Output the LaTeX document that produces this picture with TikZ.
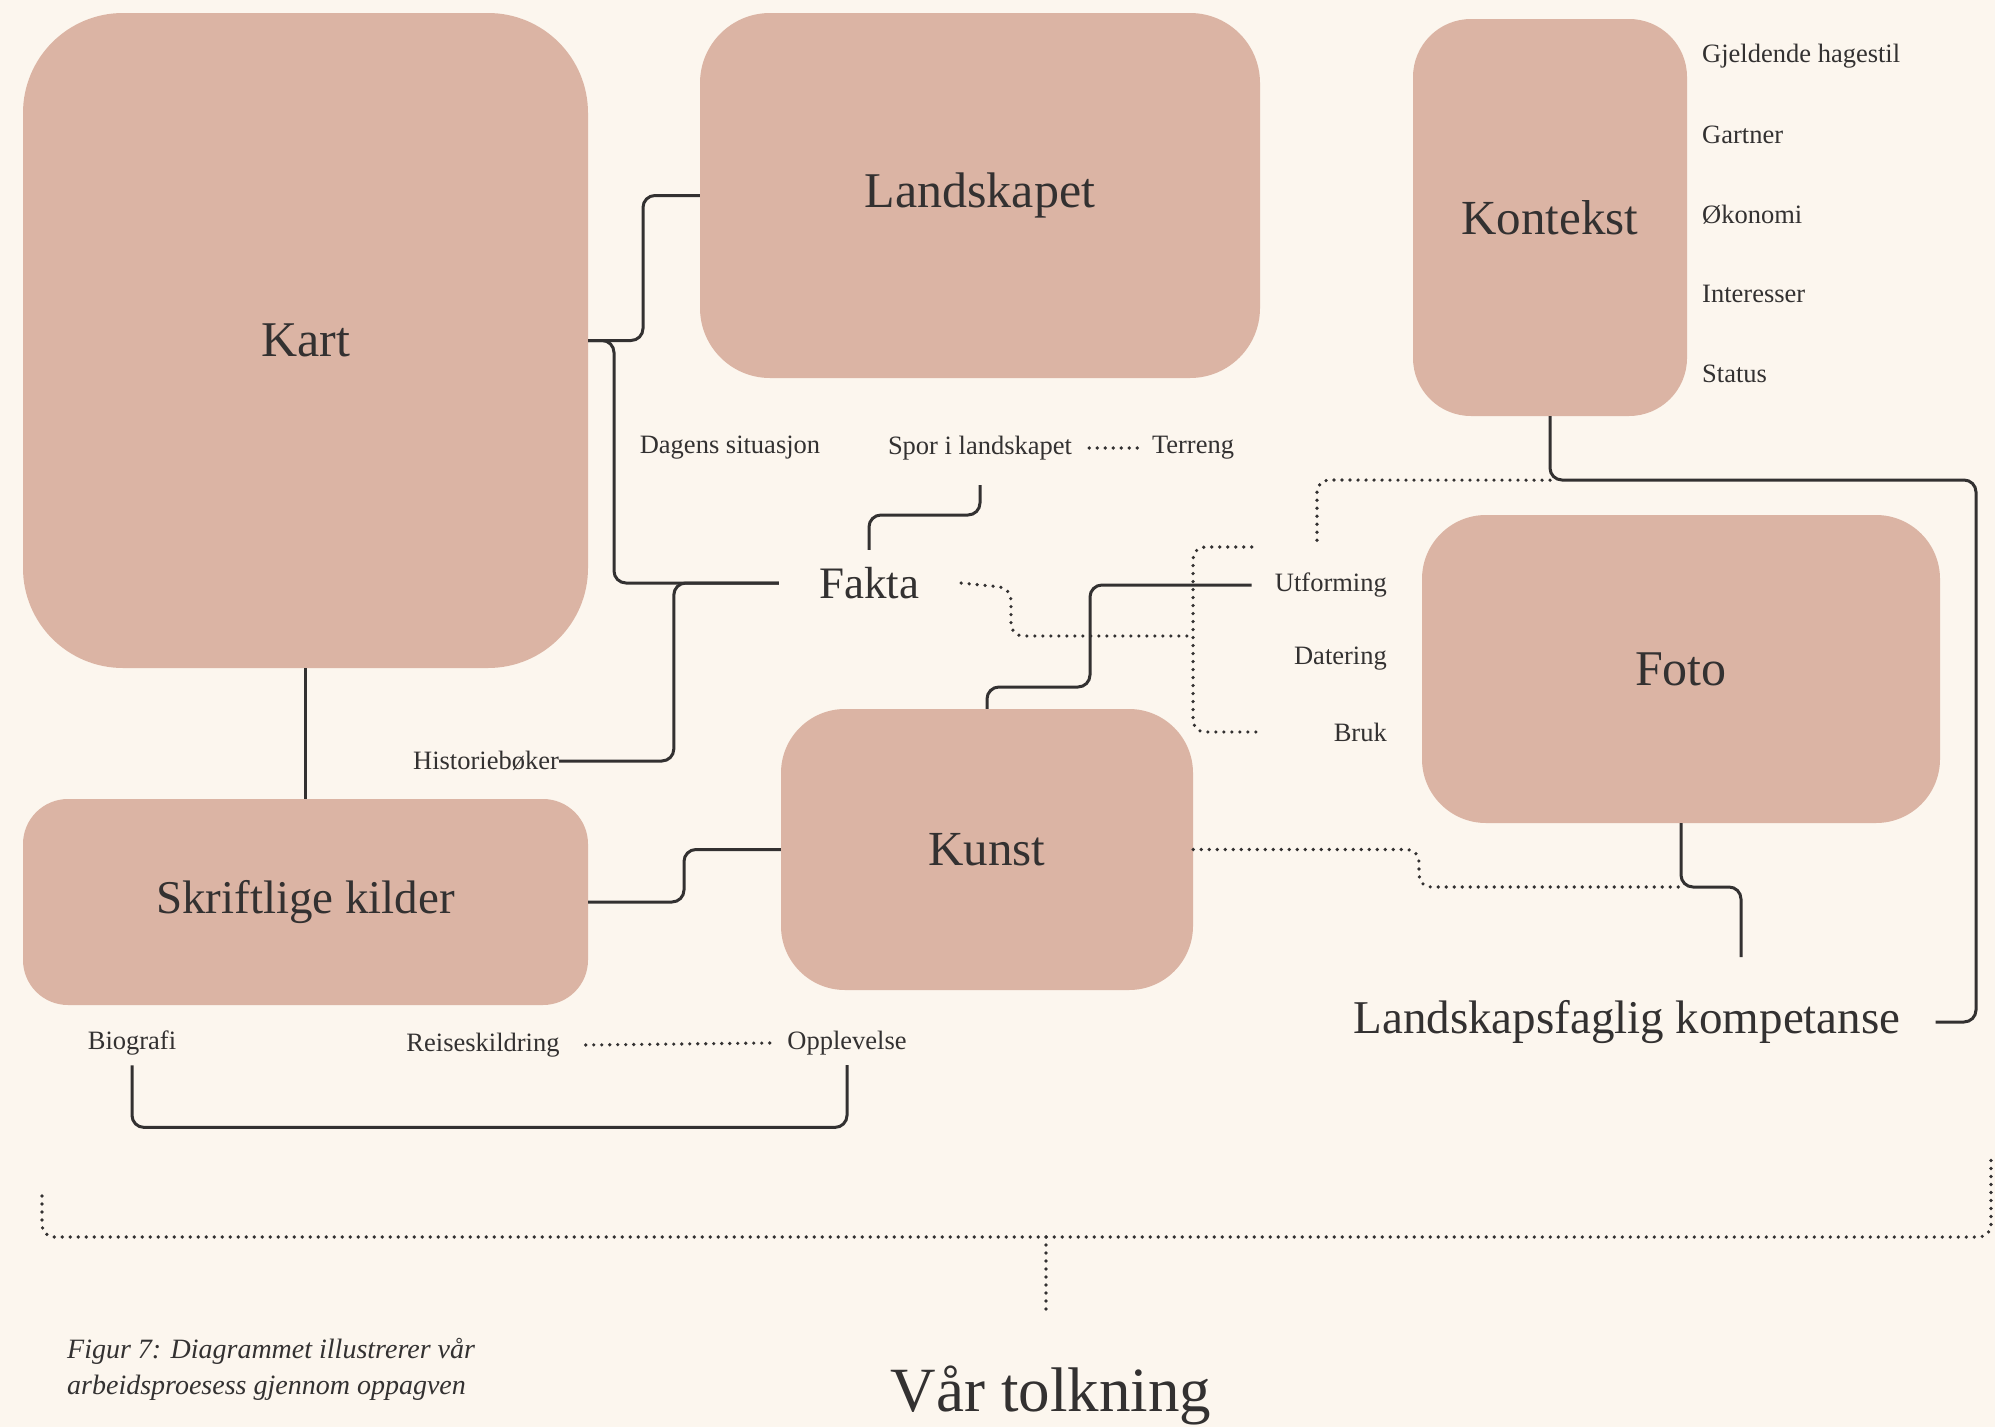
\documentclass[tikz,border=0pt]{standalone}
\usepackage{fontspec}
\setmainfont{Liberation Serif}
\definecolor{bg}{HTML}{FCF6EE}
\definecolor{boxc}{HTML}{DBB4A4}
\definecolor{ink}{HTML}{333131}
\begin{document}
\begin{tikzpicture}[x=1pt,y=-1pt,
  box/.style={fill=boxc, draw=none, inner sep=0pt, text=ink, font=\fontsize{50}{60}\selectfont},
  bigtxt/.style={inner sep=0pt, text=ink, font=\fontsize{47}{56}\selectfont},
  lab/.style={inner sep=0pt, text=ink, font=\fontsize{26.5}{30}\selectfont},
  conn/.style={draw=ink, line width=3pt, rounded corners=12pt},
  dotl/.style={draw=ink, line width=3.6pt, line cap=round, dash pattern=on 0pt off 8pt, rounded corners=12pt}]
\fill[bg] (0,0) rectangle (1995,1427);
\useasboundingbox (0,0) rectangle (1995,1427);

% boxes
\node[box, rounded corners=100pt, minimum width=565pt, minimum height=655pt] (kart) at (305.5,340.5) {Kart};
\node[box, rounded corners=70pt, minimum width=560pt, minimum height=365pt] (land) at (980,195.5) {Landskapet};
\node[box, rounded corners=58pt, minimum width=274pt, minimum height=397pt, font=\fontsize{49}{58}\selectfont] (kont) at (1550,217.5) {Kontekst};
\node[box, rounded corners=64pt, minimum width=518pt, minimum height=308pt] (foto) at (1681,669) {Foto};
\node[box, rounded corners=64pt, minimum width=412pt, minimum height=281pt, font=\fontsize{49}{58}\selectfont] (kunst) at (987,849.5) {Kunst};
\node[box, rounded corners=45pt, minimum width=565pt, minimum height=206pt, font=\fontsize{47}{56}\selectfont] (skrift) at (305.5,902) {Skriftlige kilder};

% free texts
\node[bigtxt, font=\fontsize{45}{54}\selectfont] (fakta) at (869,583) {Fakta};
\node[bigtxt] (lfk) at (1627,1022) {Landskapsfaglig kompetanse};
\node[inner sep=0pt, text=ink, font=\fontsize{63}{72}\selectfont] (vaar) at (1051,1395) {Vår tolkning};

\node[lab, anchor=west] (gj) at (1702,56) {Gjeldende hagestil};
\node[lab, anchor=west] (ga) at (1702,135) {Gartner};
\node[lab, anchor=west] (ok) at (1702,215) {Økonomi};
\node[lab, anchor=west] (in) at (1702,294) {Interesser};
\node[lab, anchor=west] (st) at (1702,374) {Status};

\node[lab] (dag) at (730,448) {Dagens situasjon};
\node[lab] (spor) at (980,448) {Spor i landskapet};
\node[lab] (terr) at (1193,448) {Terreng};

\node[lab, anchor=east] (utf) at (1387,585) {Utforming};
\node[lab, anchor=east] (dat) at (1387,659) {Datering};
\node[lab, anchor=east] (bruk) at (1387,732) {Bruk};

\node[lab] (hist) at (486,761) {Historiebøker};
\node[lab] (bio) at (132,1043) {Biografi};
\node[lab] (reise) at (483,1045) {Reiseskildring};
\node[lab] (opp) at (847,1043) {Opplevelse};

\node[inner sep=0pt, anchor=west, align=left, text=ink, font=\itshape\fontsize{28}{36}\selectfont] (cap) at (67,1369)
  {Figur 7: Diagrammet illustrerer vår\\arbeidsproesess gjennom oppagven};

% solid connectors
\draw[conn] (kart.east) -- (643,340.5) |- (land.west);
\draw[conn] (kart.east) -- (614,340.5) |- ([xshift=-40pt]fakta.west);
\draw[conn] (hist.east) -| ([xshift=-145pt]fakta.west) -- ([xshift=-40pt]fakta.west);
\draw[conn] (kart.south) -- (skrift.north);
\draw[conn] (skrift.east) -- (684,902) |- (kunst.west);
\draw[conn] (kunst.north) -- (987,687) -- (1090,687) |- ([xshift=-23pt]utf.west);
\draw[conn] ([yshift=17pt]fakta.north) -- (869,515) -| ([yshift=-25pt]spor.south);
\draw[conn] (kont.south) |- (1976,480) |- ([xshift=35pt]lfk.east);
\draw[conn] (foto.south) |- (1741,887) -- (1741,957);
\draw[conn] ([yshift=-10pt]bio.south) -- ([yshift=-72pt]bio.south) -| ([yshift=-10pt]opp.south);

% dotted connectors
\draw[dotl] ([xshift=17pt]spor.east) -- ([xshift=-12pt]terr.west);
\draw[dotl] ([xshift=26pt]reise.east) -- ([xshift=-17pt]opp.west);
\draw[dotl] ([xshift=42pt]fakta.east) -- (1011,588) -- (1011,636) -- (1193,636);
\draw[dotl] ([xshift=-23pt,yshift=38pt]utf.west) -- (1193,547) |- ([xshift=-70pt]bruk.west);
\draw[dotl] ([yshift=-64pt]kont.south) -- (1317,480) -- (1317,541);
\draw[dotl] (kunst.east) -- (1419,849.5) -- (1419,887) -- (1681,887);

% bottom bracket
\coordinate (brL) at (42,1196);
\coordinate (brR) at (1991,1158);
\coordinate (brM) at (1046,1237);
\draw[dotl] (brL) -- (42,1237) -- (1991,1237) -- (brR);
\draw[dotl, rounded corners=0pt] (brM) -- ([yshift=52pt]vaar.north -| brM);
\end{tikzpicture}
\end{document}
